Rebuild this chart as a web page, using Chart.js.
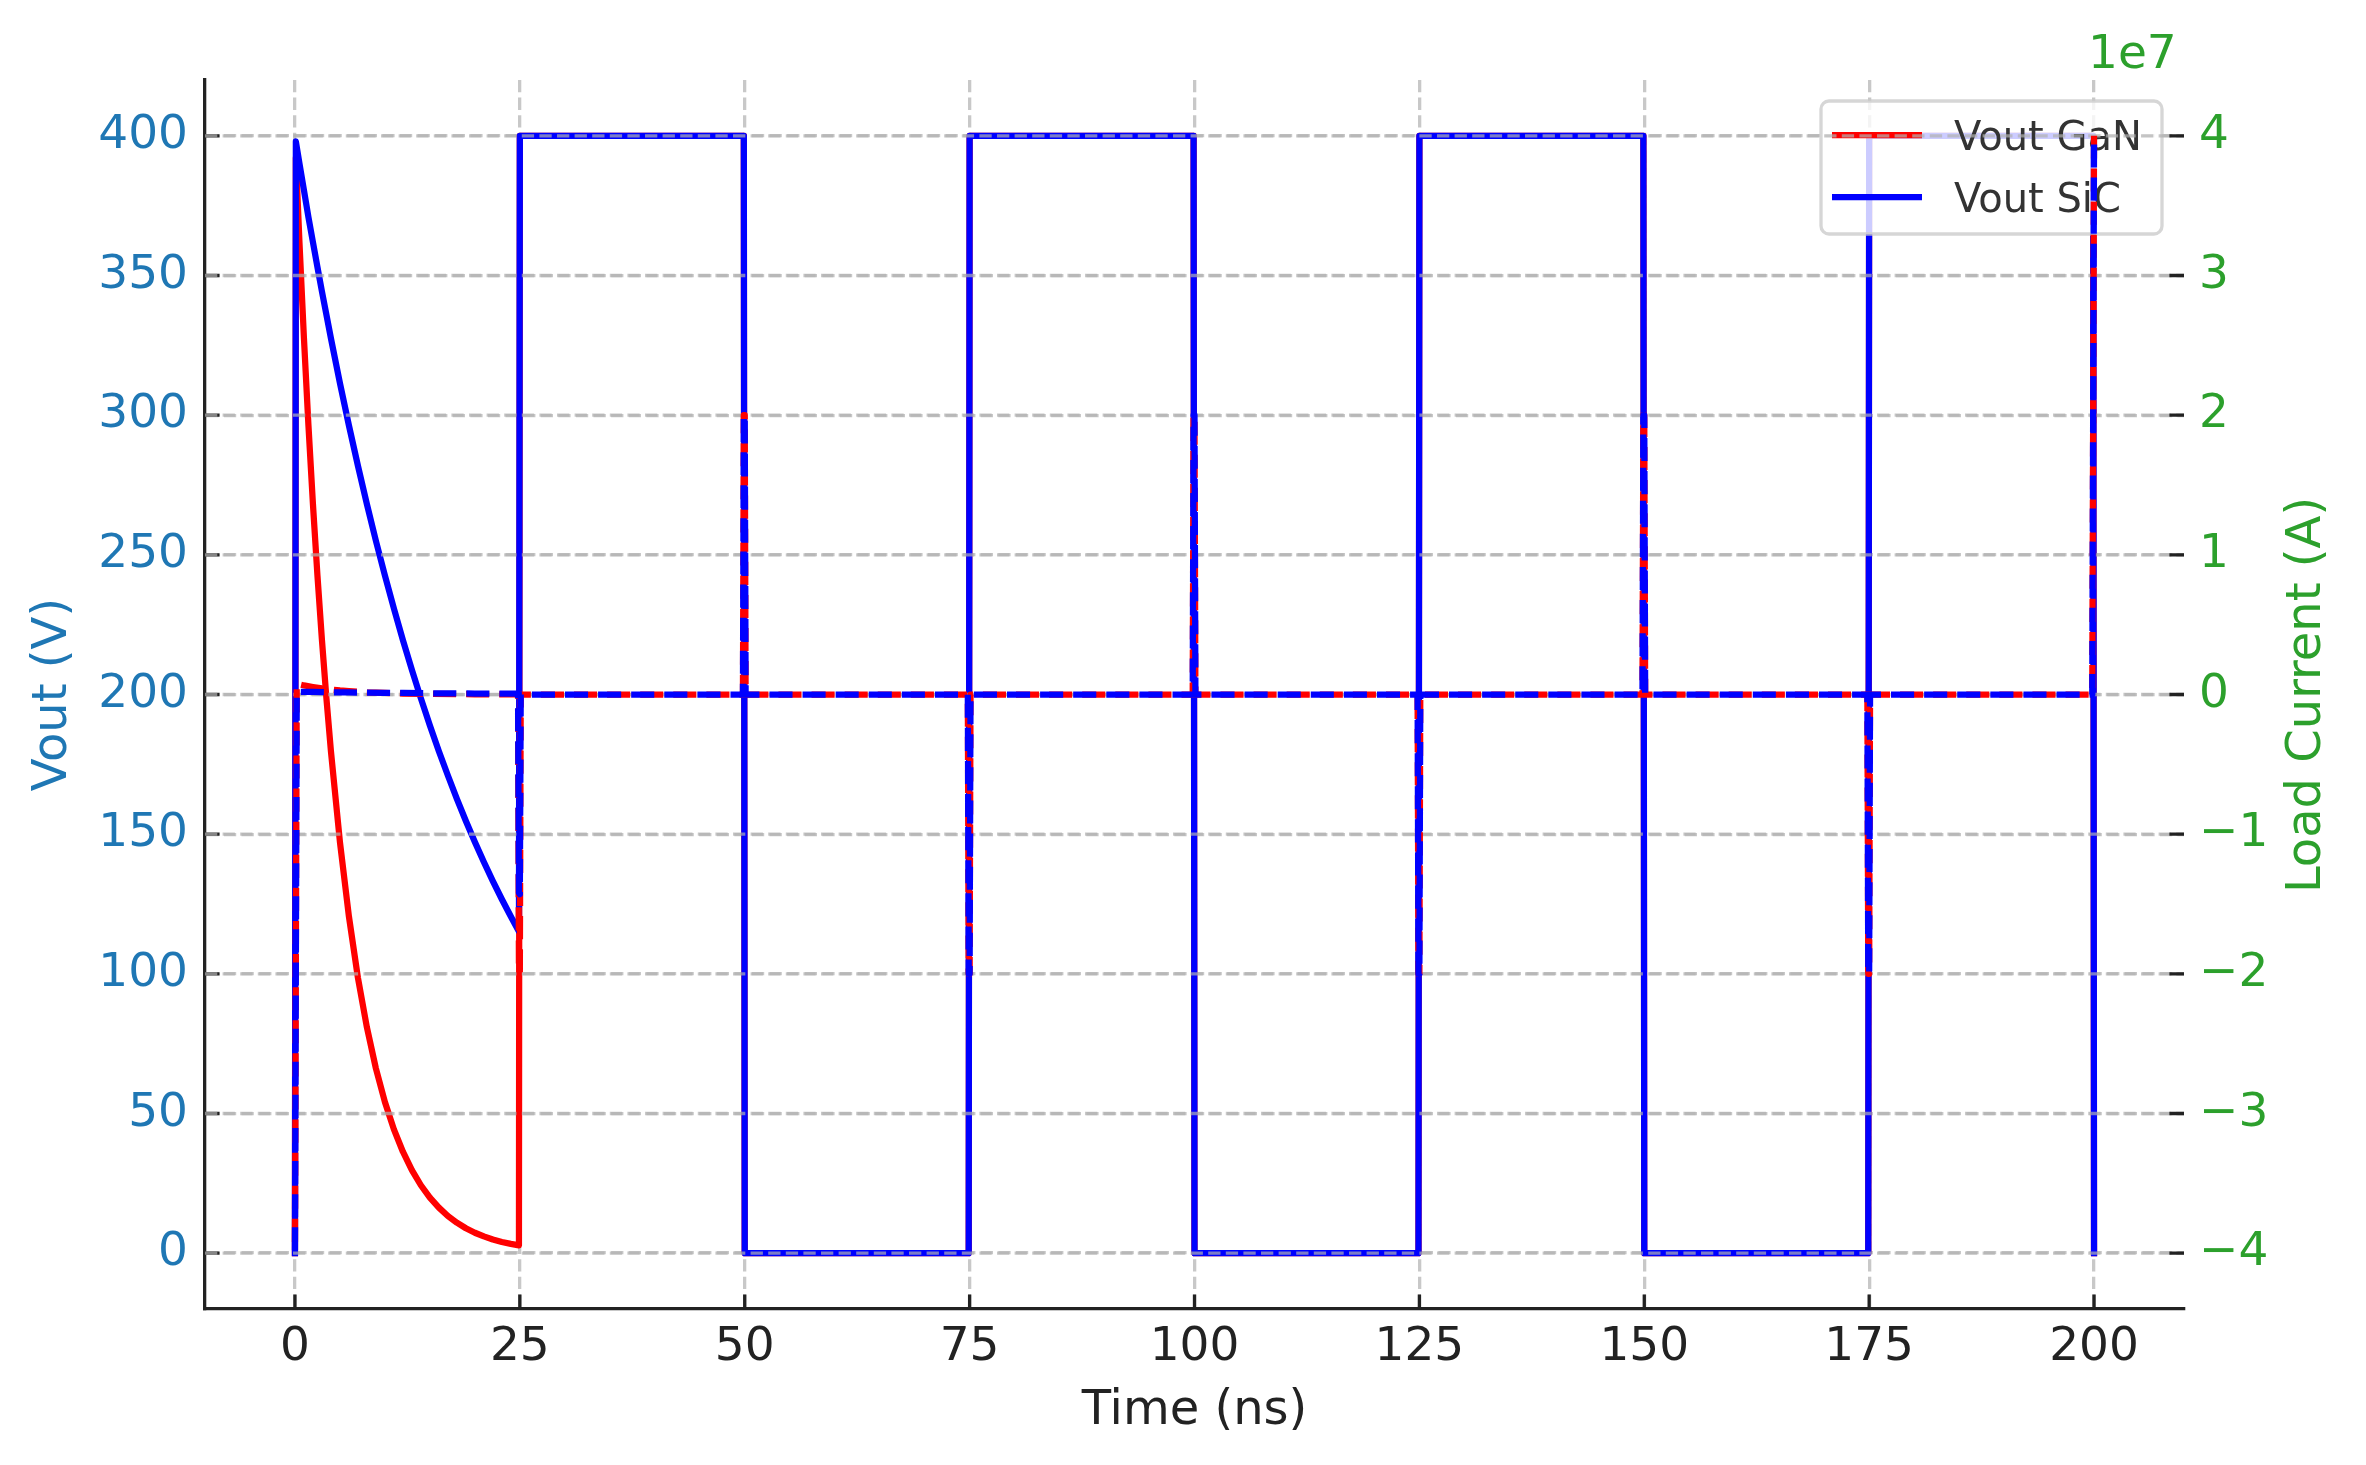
<!DOCTYPE html>
<html>
<head>
<meta charset="utf-8">
<title>Vout GaN vs SiC</title>
<script src="https://cdn.jsdelivr.net/npm/chart.js@4.4.1/dist/chart.umd.min.js"></script>
<style>
  html, body { margin: 0; padding: 0; background: #fff; }
  #wrap { width: 2366px; height: 1465px; }
</style>
</head>
<body>
<div id="wrap"><canvas id="chart" width="2366" height="1465"></canvas></div>
<script>
// first 25 ns: output discharges after the turn-on edge (time in ns, volts)
const tDecay = [0, 0.1, 0.5, 1, 1.5, 2, 2.5, 3, 3.5, 4, 5, 6, 7, 8, 9, 10, 11, 12, 13, 14, 15, 16, 17, 18, 19, 20, 21, 22, 23, 24, 24.9];
const voutGaNDecay = [0, 392.1, 361.9, 327.5, 296.3, 268.1, 242.6, 219.5, 198.6, 179.7, 147.2, 120.5, 98.6, 80.8, 66.1, 54.1, 44.3, 36.3, 29.7, 24.3, 19.9, 16.3, 13.3, 10.9, 8.9, 7.3, 6.0, 4.9, 4.0, 3.3, 2.8];
const voutSiCDecay = [0, 398.0, 390.1, 380.5, 370.9, 361.9, 353.0, 344.3, 335.9, 327.5, 311.5, 296.3, 281.9, 268.1, 255.0, 242.6, 230.8, 219.5, 208.8, 198.6, 188.9, 179.7, 171.0, 162.6, 154.7, 147.2, 140.0, 133.2, 126.7, 120.5, 115.1];

// after 25 ns both devices follow the square wave
const tSquare = [25, 49.9, 50, 74.9, 75, 99.9, 100, 124.9, 125, 149.9, 150, 174.9, 175, 199.9, 200];
const voutSquare = [400, 400, 0, 0, 400, 400, 0, 0, 400, 400, 0, 0, 400, 400, 0];

// load current (A), right axis
const tCurrent = [0, 0.1, 0.2, 1, 2, 3, 4, 5, 6, 8, 10, 12, 15, 20, 24.8,
  24.9, 25, 25.1, 49.8, 49.9, 50, 50.1, 74.8, 74.9, 75, 75.1, 99.8, 99.9, 100, 100.1,
  124.8, 124.9, 125, 125.1, 149.8, 149.9, 150, 150.1, 174.8, 174.9, 175, 175.1, 199.8, 199.9, 200];
const iGaN = [-3.92e7, -1.92e7, 7.7e5, 6.5e5, 5.4e5, 4.4e5, 3.6e5, 2.9e5, 2.4e5, 1.6e5, 1.1e5, 7e4, 4e4, 1.5e4, 5e3,
  -1.99e7, -1.99e7, 0, 0, 2e7, 2e7, 0, 0, -2e7, -2e7, 0, 0, 2e7, 2e7, 0,
  0, -2e7, -2e7, 0, 0, 2e7, 2e7, 0, 0, -2e7, -2e7, 0, 0, 2e7, 4e7];
const iSiC = [-3.98e7, -1.98e7, 2.0e5, 1.9e5, 1.8e5, 1.7e5, 1.6e5, 1.6e5, 1.5e5, 1.3e5, 1.2e5, 1.1e5, 9e4, 7e4, 6e4,
  -1.42e7, -1.43e7, 0, 0, 2e7, 2e7, 0, 0, -2e7, -2e7, 0, 0, 2e7, 2e7, 0,
  0, -2e7, -2e7, 0, 0, 2e7, 2e7, 0, 0, -2e7, -2e7, 0, 0, 2e7, 4e7];

// tick labels
const xTicks = [0, 25, 50, 75, 100, 125, 150, 175, 200];
const voutTicks = [0, 50, 100, 150, 200, 250, 300, 350, 400];
const currentTicks = [-4e7, -3e7, -2e7, -1e7, 0, 1e7, 2e7, 3e7, 4e7];

const BLUE_AX = '#1f77b4';
const GREEN_AX = '#2ca02c';
const DARK = '#222222';
const GRID = 'rgba(176,176,176,0.7)';
const LW = 6.25;            // 1.5pt at 300 dpi
const GRID_LW = 3.3;
const TICK_LEN = 14.6;
const FONT = 'DejaVu Sans';

const toPoints = (ts, vs) => ts.map((t, i) => ({ x: t, y: vs[i] }));

Chart.defaults.font.family = FONT;

// inward tick marks, like the matplotlib style of the original
function drawTicks(chart, id, side) {
  const ctx = chart.ctx;
  const s = chart.scales[id];
  const a = chart.chartArea;
  ctx.save();
  ctx.strokeStyle = DARK;
  ctx.lineWidth = GRID_LW;
  ctx.beginPath();
  s.ticks.forEach(t => {
    const p = s.getPixelForValue(t.value);
    if (side === 'bottom') { ctx.moveTo(p, a.bottom); ctx.lineTo(p, a.bottom - TICK_LEN); }
    if (side === 'left') { ctx.moveTo(a.left, p); ctx.lineTo(a.left + TICK_LEN, p); }
    if (side === 'right') { ctx.moveTo(a.right, p); ctx.lineTo(a.right - TICK_LEN, p); }
  });
  ctx.stroke();
  ctx.restore();
}

function drawLegend(chart) {
  const ctx = chart.ctx;
  const a = chart.chartArea;
  const items = chart.data.datasets.filter(d => d.inLegend);
  const w = 341, h = 133, r = 8;
  const x0 = a.right - 22 - w, y0 = a.top + 21;
  ctx.save();
  ctx.beginPath();
  ctx.roundRect(x0, y0, w, h, r);
  ctx.fillStyle = 'rgba(255,255,255,0.8)';
  ctx.fill();
  ctx.lineWidth = GRID_LW;
  ctx.strokeStyle = 'rgba(204,204,204,0.8)';
  ctx.stroke();
  ctx.font = '40px "' + FONT + '"';
  ctx.textBaseline = 'alphabetic';
  ctx.textAlign = 'left';
  items.forEach((d, i) => {
    const y = y0 + 34 + i * 62;
    ctx.strokeStyle = d.borderColor;
    ctx.lineWidth = LW;
    ctx.beginPath();
    ctx.moveTo(x0 + 11, y);
    ctx.lineTo(x0 + 101, y);
    ctx.stroke();
    ctx.fillStyle = '#333333';
    ctx.fillText(d.label, x0 + 133, y + 15);
  });
  ctx.restore();
}

const decor = {
  id: 'decor',
  afterDatasetDraw(chart, args) {
    // the twin axis (currents) is drawn above the legend of the voltage axis
    if (args.index !== 1) return;
    drawTicks(chart, 'x', 'bottom');
    drawTicks(chart, 'y', 'left');
    drawLegend(chart);
    const ctx = chart.ctx, a = chart.chartArea, y2 = chart.scales.y2;
    ctx.save();
    ctx.strokeStyle = GRID;
    ctx.lineWidth = GRID_LW;
    ctx.setLineDash([12.3, 5.3]);
    y2.ticks.forEach(t => {
      const y = y2.getPixelForValue(t.value);
      ctx.beginPath();
      ctx.moveTo(a.left, y);
      ctx.lineTo(a.right, y);
      ctx.stroke();
    });
    ctx.restore();
  },
  afterDraw(chart) {
    drawTicks(chart, 'y2', 'right');
    const ctx = chart.ctx;
    ctx.save();
    ctx.fillStyle = GREEN_AX;
    ctx.font = '47px "' + FONT + '"';
    ctx.textAlign = 'left';
    ctx.textBaseline = 'alphabetic';
    ctx.fillText('1e7', 2088, 68);
    ctx.font = '48px "' + FONT + '"';
    ctx.translate(2308, 695);
    ctx.rotate(-Math.PI / 2);
    ctx.textAlign = 'center';
    ctx.textBaseline = 'middle';
    ctx.fillText('Load Current (A)', 0, 0);
    ctx.restore();
  }
};

const fmtCurrent = v => {
  const n = Math.round(v / 1e7);
  return n < 0 ? '\u2212' + Math.abs(n) : String(n);
};

new Chart(document.getElementById('chart'), {
  type: 'scatter',
  data: {
    datasets: [
      {
        label: 'Vout GaN', inLegend: true, yAxisID: 'y', order: 4,
        data: toPoints(tDecay.concat(tSquare), voutGaNDecay.concat(voutSquare)),
        borderColor: '#ff0000', borderCapStyle: 'square'
      },
      {
        label: 'Vout SiC', inLegend: true, yAxisID: 'y', order: 3,
        data: toPoints(tDecay.concat(tSquare), voutSiCDecay.concat(voutSquare)),
        borderColor: '#0000ff', borderCapStyle: 'square'
      },
      {
        label: 'Load Current GaN', yAxisID: 'y2', order: 2,
        data: toPoints(tCurrent, iGaN),
        borderColor: '#ff0000', borderDash: [23.1, 10], borderCapStyle: 'butt'
      },
      {
        label: 'Load Current SiC', yAxisID: 'y2', order: 1,
        data: toPoints(tCurrent, iSiC),
        borderColor: '#0000ff', borderDash: [23.1, 10], borderCapStyle: 'butt'
      }
    ].map(d => Object.assign({
      showLine: true, pointRadius: 0, borderWidth: LW, borderJoinStyle: 'round', tension: 0, fill: false
    }, d))
  },
  options: {
    responsive: false,
    devicePixelRatio: 1,
    animation: false,
    events: [],
    layout: { padding: { top: 80, left: 0, right: 0, bottom: 0 } },
    plugins: { legend: { display: false }, tooltip: { enabled: false } },
    scales: {
      x: {
        type: 'linear', position: 'bottom', min: -10, max: 210,
        afterBuildTicks: s => { s.ticks = xTicks.map(v => ({ value: v })); },
        afterFit: s => { s.height = 156; },
        ticks: { autoSkip: false, maxRotation: 0, padding: 11, color: DARK, font: { size: 47 } },
        grid: { color: GRID, lineWidth: GRID_LW, drawTicks: false },
        border: { display: true, color: DARK, width: GRID_LW, dash: [12.3, 5.3] },
        title: {
          display: true, text: 'Time (ns)', color: DARK,
          font: { size: 48, lineHeight: 1.2 }, padding: { top: 0, bottom: 25 }
        }
      },
      y: {
        type: 'linear', position: 'left', min: -20, max: 420,
        afterBuildTicks: s => { s.ticks = voutTicks.map(v => ({ value: v })); },
        afterFit: s => { s.width = 205; },
        ticks: { autoSkip: false, padding: 17, color: BLUE_AX, font: { size: 47 } },
        grid: { color: GRID, lineWidth: GRID_LW, drawTicks: false },
        border: { display: true, color: DARK, width: GRID_LW, dash: [12.3, 5.3] },
        title: {
          display: true, text: 'Vout (V)', color: BLUE_AX,
          font: { size: 48, lineHeight: 1.2 }, padding: { top: 25, bottom: 0 }
        }
      },
      y2: {
        type: 'linear', position: 'right', min: -4.4e7, max: 4.4e7,
        afterBuildTicks: s => { s.ticks = currentTicks.map(v => ({ value: v })); },
        afterFit: s => { s.width = 182; },
        ticks: { autoSkip: false, padding: 15, color: GREEN_AX, font: { size: 47 }, callback: fmtCurrent },
        grid: { display: false, drawTicks: false },
        border: { display: false }
      }
    }
  },
  plugins: [decor]
});
</script>
</body>
</html>
